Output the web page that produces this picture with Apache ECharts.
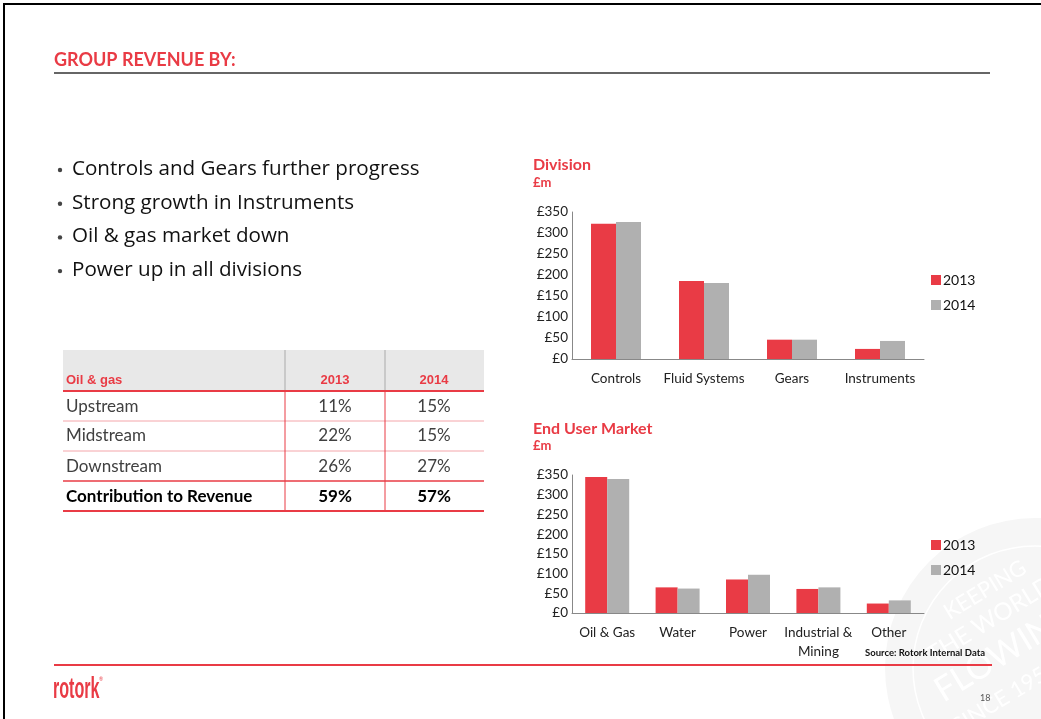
<!DOCTYPE html>
<html style="height: 100%">

<head>
    <meta charset="utf-8">
</head>

<body style="height: 100%; margin: 0; background: #fff">
    <div id="container" style="height: 100%"></div>
    <script src="https://cdn.jsdelivr.net/npm/echarts@6/dist/echarts.min.js"></script>
    <script type="text/javascript">
        // chart data
        var years = ['2013', '2014']
        var divisions = ['Controls', 'Fluid Systems', 'Gears', 'Instruments']
        var div2013 = [322, 186, 46, 24]
        var div2014 = [326, 181, 46, 43]
        var markets = ['Oil & Gas', 'Water', 'Power', 'Industrial &\nMining', 'Other']
        var mkt2013 = [345, 65, 85, 61, 24]
        var mkt2014 = [340, 62, 97, 65, 32]
        var yTicks = [0, 350, 50]

        // table data
        var tableRows = ['Upstream', 'Midstream', 'Downstream', 'Contribution to Revenue']
        var oil2013 = ['11%', '22%', '26%', '59%']
        var oil2014 = ['15%', '15%', '27%', '57%']
        var bullets = ['Controls and Gears further progress', 'Strong growth in Instruments',
            'Oil & gas market down', 'Power up in all divisions']

        var RED = '#E93B45'
        var GREY = '#B0B0B0'
        var FONT = 'Lato, "Open Sans", sans-serif'

        var dom = document.getElementById("container");
        var myChart = echarts.init(dom);

        var g = []
        // slide frame
        g.push({ type: 'rect', shape: { x: 4, y: 4, width: 1100, height: 800 }, style: { fill: 'none', stroke: '#000', lineWidth: 2 } })
        // watermark stamp
        g.push({ type: 'circle', shape: { cx: 1035, cy: 668, r: 150 }, style: { fill: '#f6f6f6' } })
        g.push({ type: 'circle', shape: { cx: 1035, cy: 668, r: 122 }, style: { fill: 'none', stroke: '#fff', lineWidth: 1.5 } })
        var stamp = [['KEEPING', 985, 590, 22], ['THE WORLD', 990, 620, 24], ['FLOWING', 1005, 652, 34], ['SINCE 1957', 1005, 697, 22]]
        stamp.forEach(function (s) {
            g.push({ type: 'text', x: s[1], y: s[2], rotation: 0.55, style: { text: s[0], fill: '#fff', font: s[3] + 'px ' + FONT, align: 'center', verticalAlign: 'middle' } })
        })
        // header
        g.push({ type: 'text', style: { x: 54, y: 60, text: 'GROUP REVENUE BY:', fill: RED, font: 'bold 18px ' + FONT, verticalAlign: 'middle' } })
        g.push({ type: 'line', shape: { x1: 54, y1: 73, x2: 990, y2: 73 }, style: { stroke: '#666', lineWidth: 2 } })
        // bullets
        bullets.forEach(function (b, i) {
            var y = 169 + i * 33.7
            g.push({ type: 'circle', shape: { cx: 60, cy: y + 1, r: 2.2 }, style: { fill: '#444' } })
            g.push({ type: 'text', style: { x: 72, y: y, text: b, fill: '#111', font: '20.6px "Open Sans", sans-serif', verticalAlign: 'middle' } })
        })
        // table
        g.push({ type: 'rect', shape: { x: 63, y: 350, width: 421, height: 41 }, style: { fill: '#E8E8E8' } })
        g.push({ type: 'line', shape: { x1: 285, y1: 350, x2: 285, y2: 391 }, style: { stroke: '#aaa', lineWidth: 1 } })
        g.push({ type: 'line', shape: { x1: 385, y1: 350, x2: 385, y2: 391 }, style: { stroke: '#aaa', lineWidth: 1 } })
        g.push({ type: 'text', style: { x: 66, y: 380, text: 'Oil & gas', fill: RED, font: 'bold 13px "Liberation Sans", Arial', verticalAlign: 'middle' } })
        g.push({ type: 'text', style: { x: 335, y: 380, text: years[0], fill: RED, font: 'bold 13px "Liberation Sans", Arial', align: 'center', verticalAlign: 'middle' } })
        g.push({ type: 'text', style: { x: 434, y: 380, text: years[1], fill: RED, font: 'bold 13px "Liberation Sans", Arial', align: 'center', verticalAlign: 'middle' } })
        var rowLines = [[391, RED, 2], [421, '#F4A5AA', 1], [451, '#F4A5AA', 1], [481, RED, 1.5], [511, RED, 2]]
        rowLines.forEach(function (l) {
            g.push({ type: 'line', shape: { x1: 63, y1: l[0], x2: 484, y2: l[0] }, style: { stroke: l[1], lineWidth: l[2] } })
        })
        g.push({ type: 'line', shape: { x1: 285, y1: 391, x2: 285, y2: 511 }, style: { stroke: RED, lineWidth: 1 } })
        g.push({ type: 'line', shape: { x1: 385, y1: 391, x2: 385, y2: 511 }, style: { stroke: RED, lineWidth: 1 } })
        var rowY = [407, 436, 467, 497]
        tableRows.forEach(function (r, i) {
            var last = i === tableRows.length - 1
            var f = (last ? 'bold ' : '') + '17px ' + FONT
            var c = last ? '#000' : '#404040'
            g.push({ type: 'text', style: { x: 66, y: rowY[i], text: r, fill: c, font: f, verticalAlign: 'middle' } })
            g.push({ type: 'text', style: { x: 335, y: rowY[i], text: oil2013[i], fill: c, font: f, align: 'center', verticalAlign: 'middle' } })
            g.push({ type: 'text', style: { x: 434, y: rowY[i], text: oil2014[i], fill: c, font: f, align: 'center', verticalAlign: 'middle' } })
        })
        // chart titles
        g.push({ type: 'text', style: { x: 533, y: 165, text: 'Division', fill: RED, font: 'bold 16px ' + FONT, verticalAlign: 'middle' } })
        g.push({ type: 'text', style: { x: 533, y: 183, text: '£m', fill: RED, font: 'bold 13px ' + FONT, verticalAlign: 'middle' } })
        g.push({ type: 'text', style: { x: 533, y: 429, text: 'End User Market', fill: RED, font: 'bold 16px ' + FONT, verticalAlign: 'middle' } })
        g.push({ type: 'text', style: { x: 533, y: 446, text: '£m', fill: RED, font: 'bold 13px ' + FONT, verticalAlign: 'middle' } })
        g.push({ type: 'text', style: { x: 985, y: 653, text: 'Source: Rotork Internal Data', fill: '#111', font: 'bold 9.5px ' + FONT, align: 'right', verticalAlign: 'middle' } })
        // footer
        g.push({ type: 'line', shape: { x1: 54, y1: 665, x2: 992, y2: 665 }, style: { stroke: RED, lineWidth: 2 } })
        g.push({ type: 'text', x: 53, y: 690, scaleX: 0.62, scaleY: 1.12, style: { x: 0, y: 0, text: 'rotork', fill: RED, font: 'bold 26px "Liberation Sans", Arial, sans-serif', verticalAlign: 'middle' } })
        g.push({ type: 'text', style: { x: 99, y: 679, text: '®', fill: RED, font: '5px ' + FONT, verticalAlign: 'middle' } })
        g.push({ type: 'text', style: { x: 980, y: 698, text: '18', fill: '#555', font: '9px ' + FONT, verticalAlign: 'middle' } })

        function yAxis(idx) {
            return {
                type: 'value', gridIndex: idx, min: yTicks[0], max: yTicks[1], interval: yTicks[2],
                axisLine: { show: true, lineStyle: { color: '#888' } },
                axisTick: { show: false }, splitLine: { show: false },
                axisLabel: { formatter: '£{value}', color: '#222', fontSize: 13.5, fontFamily: FONT, margin: 4 }
            }
        }
        function xAxis(idx, cats) {
            return {
                type: 'category', gridIndex: idx, data: cats,
                axisLine: { lineStyle: { color: '#888' } }, axisTick: { show: false },
                axisLabel: { color: '#222', fontSize: 13.5, fontFamily: FONT, margin: 10, interval: 0, lineHeight: 19 }
            }
        }
        function bar(name, data, idx, color, w) {
            return {
                name: name, type: 'bar', xAxisIndex: idx, yAxisIndex: idx, data: data,
                barWidth: w, barGap: '0%', itemStyle: { color: color }, animation: false
            }
        }

        var option = {
            animation: false,
            textStyle: { fontFamily: FONT },
            grid: [
                { left: 572, top: 212, width: 352, height: 147 },
                { left: 572, top: 475, width: 352, height: 138 }
            ],
            xAxis: [xAxis(0, divisions), xAxis(1, markets)],
            yAxis: [yAxis(0), yAxis(1)],
            legend: [
                { data: years, orient: 'vertical', left: 926, top: 268, itemWidth: 10, itemHeight: 10, itemGap: 11, icon: 'rect', textStyle: { fontSize: 14, color: '#111', padding: [0, 0, 0, -3] } },
                { data: years, orient: 'vertical', left: 926, top: 533, itemWidth: 10, itemHeight: 10, itemGap: 11, icon: 'rect', textStyle: { fontSize: 14, color: '#111', padding: [0, 0, 0, -3] } }
            ],
            series: [
                bar('2013', div2013, 0, RED, 25),
                bar('2014', div2014, 0, GREY, 25),
                bar('2013', mkt2013, 1, RED, 22),
                bar('2014', mkt2014, 1, GREY, 22)
            ],
            graphic: g
        };

        myChart.setOption(option);
    </script>
</body>

</html>
